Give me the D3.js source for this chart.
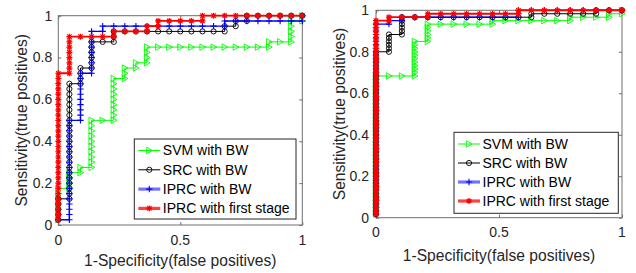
<!DOCTYPE html>
<html><head><meta charset="utf-8">
<script src="https://cdn.jsdelivr.net/npm/d3@7"></script>
<style>
body{margin:0;background:#fff;}
svg{display:block;}
text{font-family:Arial,"Liberation Sans",Helvetica,sans-serif;fill:#262626;}
</style>
</head><body>
<svg id="c" width="636" height="273"></svg>
<script>
// ---- data ----
const seriesNames = ["SVM with BW", "SRC with BW", "IPRC with BW", "IPRC with first stage"];
const seriesColors = ["#00ff00", "#000000", "#0000ff", "#ff0000"];
const xTicks = [0, 0.5, 1];
const yTicks = [0, 0.2, 0.4, 0.6, 0.8, 1];
const xTickLabels = ["0", "0.5", "1"];
const yTickLabels = ["0", "0.2", "0.4", "0.6", "0.8", "1"];
const xLabel = "1-Specificity(false positives)";
const yLabel = "Sensitivity(true positives)";

// ranked label sequences (run-length: P = true positive step, N = false positive step)
const leftNeg = 22, leftPos = 40;
const leftSVM = [["P",7],["N",1],["P",3],["N",1],["P",1],["N",1],["P",9],["N",2],["P",8],["N",1],["P",2],["N",1],["P",1],["N",1],["P",3],["N",11],["P",1],["N",2],["P",4],["N",1],["P",1]];
const leftSRC = [["P",5],["N",1],["P",22],["N",1],["P",3],["N",1],["P",5],["N",2],["P",2],["N",10],["P",1],["N",1],["P",1],["N",1],["P",1],["N",5]];
const leftIPRC = [["P",1],["N",1],["P",19],["N",1],["P",9],["N",1],["P",8],["N",1],["P",1],["N",11],["P",1],["N",7],["P",1]];
const leftFirst = [["P",29],["N",1],["P",7],["N",4],["P",1],["N",3],["P",1],["N",1],["P",1],["N",4],["P",1],["N",9]];

const rightNeg = 19, rightPos = 60;
const rightSVM = [["P",41],["N",3],["P",10],["N",1],["P",5],["N",5],["P",1],["N",6],["P",1],["N",3],["P",1],["N",1],["P",1]];
const rightSRC = [["P",48],["N",1],["P",5],["N",1],["P",5],["N",10],["P",1],["N",5],["P",1],["N",2]];
const rightIPRC = [["P",56],["N",1],["P",1],["N",1],["P",1],["N",9],["P",2],["N",8]];
const rightFirst = [["P",57],["N",1],["P",1],["N",3],["P",1],["N",7],["P",1],["N",8]];

// ---- layout ----
const panels = [
  {x0:58.3, x1:302.3, y0:225, y1:15.7, neg:leftNeg, pos:leftPos,
   series:[leftSVM,leftSRC,leftIPRC,leftFirst],
   legend:{x:134.3, y:139, w:161.7, h:80, row0:11.5, dy:19.3},
   ylabX:22, xlabY:265.5, tickLabDy:15, tickLabDx:6},
  {x0:376, x1:622, y0:217.7, y1:10.3, neg:rightNeg, pos:rightPos,
   series:[rightSVM,rightSRC,rightIPRC,rightFirst],
   legend:{x:454, y:132.3, w:164.3, h:81, row0:11.7, dy:19},
   ylabX:339.5, xlabY:260.5, tickLabDy:14, tickLabDx:7}
];

const svg = d3.select("#c");

function expand(rle){
  const pts=[]; let fp=0,tp=0;
  rle.forEach(([d,c])=>{ for(let i=0;i<c;i++){ if(d==="P") tp++; else fp++; pts.push([fp,tp]); } });
  return pts;
}

function marker(g, k, color){
  if(k===0){
    g.append("path").attr("d","M-2.6,-3.2L3.2,0L-2.6,3.2Z").attr("fill","none").attr("stroke",color).attr("stroke-width",0.9);
  } else if(k===1){
    g.append("circle").attr("r",2.6).attr("fill","none").attr("stroke",color).attr("stroke-width",0.9);
  } else if(k===2){
    g.append("path").attr("d","M-3.2,0H3.2M0,-3.2V3.2").attr("stroke",color).attr("stroke-width",1.1);
  } else {
    g.append("circle").attr("r",1.6).attr("fill",color);
    g.append("path").attr("d","M-3,0H3M0,-3V3M-2.2,-2.2L2.2,2.2M-2.2,2.2L2.2,-2.2").attr("stroke",color).attr("stroke-width",1.2);
  }
}
const lineW = [1, 1, 1.4, 1.8];

panels.forEach(p=>{
  const x = d3.scaleLinear().domain([0,1]).range([p.x0,p.x1]);
  const y = d3.scaleLinear().domain([0,1]).range([p.y0,p.y1]);
  const g = svg.append("g");

  // box
  g.append("rect").attr("x",p.x0).attr("y",p.y1).attr("width",p.x1-p.x0).attr("height",p.y0-p.y1)
    .attr("fill","none").attr("stroke","#6e6e6e").attr("stroke-width",1);

  // axes (inward ticks) via d3 axes
  const tl = 3;
  const axB = g.append("g").attr("transform",`translate(0,${p.y0})`)
    .call(d3.axisTop(x).tickValues(xTicks).tickSize(tl).tickFormat(""));
  const axT = g.append("g").attr("transform",`translate(0,${p.y1})`)
    .call(d3.axisBottom(x).tickValues(xTicks).tickSize(tl).tickFormat(""));
  const axL = g.append("g").attr("transform",`translate(${p.x0},0)`)
    .call(d3.axisRight(y).tickValues(yTicks).tickSize(tl).tickFormat(""));
  const axR = g.append("g").attr("transform",`translate(${p.x1},0)`)
    .call(d3.axisLeft(y).tickValues(yTicks).tickSize(tl).tickFormat(""));
  [axB,axT,axL,axR].forEach(a=>{ a.select(".domain").remove(); a.selectAll("line").attr("stroke","#6e6e6e"); });

  // tick labels
  g.selectAll(".xt").data(xTicks).enter().append("text")
    .attr("x",d=>x(d)).attr("y",p.y0+p.tickLabDy).attr("dy","0.35em")
    .attr("text-anchor","middle").attr("font-size",14).text((d,i)=>xTickLabels[i]);
  g.selectAll(".yt").data(yTicks).enter().append("text")
    .attr("x",p.x0-p.tickLabDx).attr("y",d=>y(d)).attr("dy","0.35em")
    .attr("text-anchor","end").attr("font-size",14).text((d,i)=>yTickLabels[i]);

  // axis labels
  g.append("text").attr("x",(p.x0+p.x1)/2).attr("y",p.xlabY).attr("text-anchor","middle")
    .attr("font-size",15.6).text(xLabel);
  g.append("text").attr("transform",`translate(${p.ylabX},${(p.y0+p.y1)/2}) rotate(-90)`)
    .attr("dy","0.35em").attr("text-anchor","middle").attr("font-size",15.6).text(yLabel);

  // series
  p.series.forEach((rle,k)=>{
    const pts = expand(rle).map(([fp,tp])=>[fp/p.neg, tp/p.pos]);
    const line = d3.line().x(d=>x(d[0])).y(d=>y(d[1]));
    const sg = g.append("g");
    sg.append("path").attr("d",line(pts)).attr("fill","none").attr("stroke",seriesColors[k])
      .attr("stroke-width",lineW[k]).attr("stroke-linejoin","miter");
    pts.forEach(d=>{
      const mg = sg.append("g").attr("transform",`translate(${x(d[0])},${y(d[1])})`);
      marker(mg,k,seriesColors[k]);
    });
  });

  // legend
  const L = p.legend;
  const lg = g.append("g");
  lg.append("rect").attr("x",L.x).attr("y",L.y).attr("width",L.w).attr("height",L.h)
    .attr("fill","#fff").attr("stroke","#262626").attr("stroke-width",1);
  seriesNames.forEach((name,k)=>{
    const cy = L.y + L.row0 + k*L.dy;
    const lw = k>=2 ? 3.2 : 1;
    const op = k===2 ? 0.55 : (k===3 ? 0.75 : 1);
    lg.append("line").attr("x1",L.x+4).attr("x2",L.x+26).attr("y1",cy).attr("y2",cy)
      .attr("stroke",seriesColors[k]).attr("stroke-width",lw).attr("stroke-opacity",op);
    const mg = lg.append("g").attr("transform",`translate(${L.x+15},${cy})`);
    marker(mg,k,seriesColors[k]);
    lg.append("text").attr("x",L.x+28.5).attr("y",cy).attr("dy","0.35em").attr("font-size",14)
      .style("fill","#000").text(name);
  });
});
</script>
</body></html>
